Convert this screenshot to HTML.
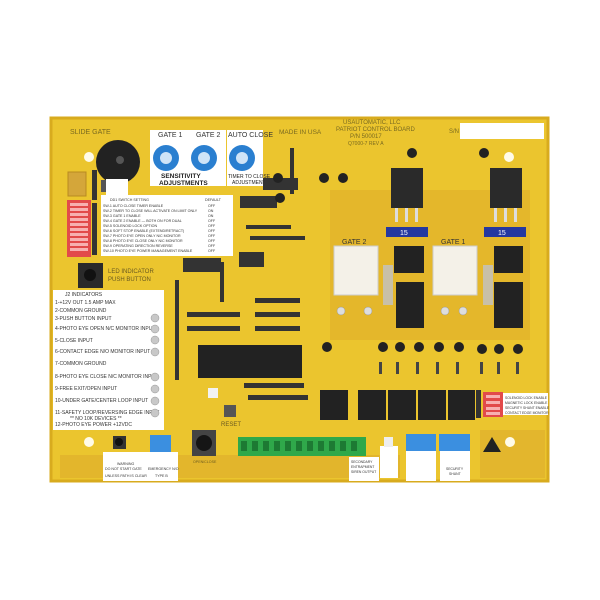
<!DOCTYPE html>
<html><head><style>
html,body{margin:0;padding:0;background:#fff;width:600px;height:600px;overflow:hidden}
svg{display:block}
text{font-family:"Liberation Sans",sans-serif}
</style></head><body>
<svg width="600" height="600" viewBox="0 0 600 600" xmlns="http://www.w3.org/2000/svg">
<rect width="600" height="600" fill="#fff"/>
<rect x="51" y="118" width="497" height="363" fill="#ebc52e"/>
<rect x="51" y="118" width="497" height="363" fill="none" stroke="#d8ab1e" stroke-width="3"/>
<path d="M330 190 L530 190 L530 340 L330 340 Z" fill="#dfae2a" opacity="0.6"/>
<path d="M60 455 L230 455 L230 478 L60 478 Z" fill="#dca82a" opacity="0.5"/>
<path d="M230 455 L400 455 L400 478 L230 478 Z" fill="#d9a52a" opacity="0.5"/>
<path d="M520 430 L545 430 L545 478 L480 478 L480 430Z" fill="#dba82b" opacity="0.5"/>
<circle cx="89" cy="157" r="5" fill="#fffbe8"/>
<circle cx="509" cy="157" r="5" fill="#fffbe8"/>
<circle cx="89" cy="442" r="5" fill="#fffbe8"/>
<circle cx="510" cy="442" r="5" fill="#fffbe8"/>
<text x="70" y="134" font-size="7" fill="#7a6a20">SLIDE GATE</text>
<text x="279" y="134" font-size="6.5" fill="#7a6a20">MADE IN USA</text>
<text x="343" y="124" font-size="6" fill="#7a6a20">USAUTOMATIC, LLC</text>
<text x="336" y="131" font-size="6" fill="#7a6a20">PATRIOT CONTROL BOARD</text>
<text x="350" y="138" font-size="6" fill="#7a6a20">P/N 500017</text>
<text x="348" y="145" font-size="5" fill="#7a6a20">Q7000-7 REV A</text>
<text x="449" y="133" font-size="6" fill="#7a6a20">S/N</text>
<rect x="460" y="123" width="84" height="16" fill="#fff"/>
<circle cx="118" cy="162" r="22" fill="#222"/>
<circle cx="120" cy="160" r="4" fill="#555"/>
<rect x="150" y="130" width="76" height="56" fill="#fff"/>
<rect x="227" y="130" width="36" height="56" fill="#fff"/>
<text x="158" y="137" font-size="7" fill="#333">GATE 1</text>
<text x="196" y="137" font-size="7" fill="#333">GATE 2</text>
<text x="228" y="137" font-size="7" fill="#333">AUTO CLOSE</text>
<circle cx="166" cy="158" r="13" fill="#2a7fd0"/><circle cx="166" cy="158" r="6" fill="#cfe4f7"/>
<circle cx="204" cy="158" r="13" fill="#2a7fd0"/><circle cx="204" cy="158" r="6" fill="#cfe4f7"/>
<circle cx="242" cy="158" r="13" fill="#2a7fd0"/><circle cx="242" cy="158" r="6" fill="#cfe4f7"/>
<text x="161" y="178" font-size="6.5" fill="#222" font-weight="bold">SENSITIVITY</text>
<text x="159" y="185" font-size="6.5" fill="#222" font-weight="bold">ADJUSTMENTS</text>
<text x="228" y="178" font-size="5" fill="#222">TIMER TO CLOSE</text>
<text x="232" y="184" font-size="5" fill="#222">ADJUSTMENT</text>
<rect x="68" y="172" width="18" height="24" fill="#d4a63a" stroke="#b88a20"/>
<rect x="92" y="170" width="5" height="30" fill="#333"/>
<rect x="101" y="180" width="5" height="12" fill="#555"/>
<rect x="106" y="179" width="22" height="17" fill="#fff"/>
<rect x="67" y="200" width="24" height="57" fill="#e24a4a"/>
<g fill="#f7b0b0">
<rect x="70" y="203" width="18" height="3"/><rect x="70" y="208" width="18" height="3"/><rect x="70" y="213" width="18" height="3"/><rect x="70" y="218" width="18" height="3"/><rect x="70" y="223" width="18" height="3"/><rect x="70" y="228" width="18" height="3"/><rect x="70" y="233" width="18" height="3"/><rect x="70" y="238" width="18" height="3"/><rect x="70" y="243" width="18" height="3"/><rect x="70" y="248" width="18" height="3"/></g>
<rect x="92" y="203" width="5" height="52" fill="#333"/>
<rect x="101" y="195" width="132" height="61" fill="#fff"/>
<g font-size="3.6" fill="#333">
<text x="110" y="201">DD1 SWITCH SETTING</text><text x="205" y="201">DEFAULT</text>
<text x="103" y="207">SW-1  AUTO CLOSE TIMER ENABLE</text><text x="208" y="207">OFF</text>
<text x="103" y="212">SW-2  TIMER TO CLOSE WILL ACTIVATE ON LIMIT ONLY</text><text x="208" y="212">ON</text>
<text x="103" y="217">SW-3  GATE 1 ENABLE</text><text x="208" y="217">ON</text>
<text x="103" y="222">SW-4  GATE 2 ENABLE   — BOTH ON FOR DUAL</text><text x="208" y="222">OFF</text>
<text x="103" y="227">SW-5  SOLENOID LOCK OPTION</text><text x="208" y="227">OFF</text>
<text x="103" y="232">SW-6  SOFT STOP ENABLE (EXTEND/RETRACT)</text><text x="208" y="232">OFF</text>
<text x="103" y="237">SW-7  PHOTO EYE OPEN    ONLY N/C MONITOR</text><text x="208" y="237">OFF</text>
<text x="103" y="242">SW-8  PHOTO EYE CLOSE   ONLY N/C MONITOR</text><text x="208" y="242">OFF</text>
<text x="103" y="247">SW-9  OPERATING DIRECTION REVERSE</text><text x="208" y="247">OFF</text>
<text x="103" y="252">SW-10 PHOTO EYE POWER MANAGEMENT ENABLE</text><text x="208" y="252">OFF</text>
</g>
<rect x="78" y="263" width="25" height="25" fill="#2a2a2a"/>
<circle cx="90" cy="275" r="6" fill="#111"/>
<text x="108" y="273" font-size="6" fill="#6a5a20">LED INDICATOR</text>
<text x="108" y="281" font-size="6" fill="#6a5a20">PUSH BUTTON</text>
<rect x="53" y="290" width="111" height="140" fill="#fff"/>
<g font-size="5" fill="#333">
<text x="65" y="296">J2 INDICATORS</text>
<text x="55" y="304">1-+12V OUT 1.5 AMP MAX</text>
<text x="55" y="312">2-COMMON GROUND</text>
<text x="55" y="320">3-PUSH BUTTON INPUT</text>
<text x="55" y="330">4-PHOTO EYE OPEN  N/C MONITOR INPUT</text>
<text x="55" y="342">5-CLOSE INPUT</text>
<text x="55" y="353">6-CONTACT EDGE  N/O MONITOR INPUT</text>
<text x="55" y="365">7-COMMON GROUND</text>
<text x="55" y="378">8-PHOTO EYE CLOSE N/C MONITOR INPUT</text>
<text x="55" y="390">9-FREE EXIT/OPEN INPUT</text>
<text x="55" y="402">10-UNDER GATE/CENTER LOOP INPUT</text>
<text x="55" y="414">11-SAFETY LOOP/REVERSING EDGE INPUT</text>
<text x="70" y="420">** NO 10K DEVICES **</text>
<text x="55" y="426">12-PHOTO EYE POWER +12VDC</text>
</g>
<g fill="#c8c8c8" stroke="#999" stroke-width="0.5">
<circle cx="155" cy="318" r="4"/><circle cx="155" cy="329" r="4"/><circle cx="155" cy="340" r="4"/><circle cx="155" cy="352" r="4"/><circle cx="155" cy="377" r="4"/><circle cx="155" cy="389" r="4"/><circle cx="155" cy="401" r="4"/><circle cx="155" cy="413" r="4"/></g>
<rect x="113" y="436" width="13" height="13" fill="#333"/><circle cx="119" cy="442" r="4" fill="#111"/>
<rect x="150" y="435" width="21" height="17" fill="#3b8fe0"/>
<rect x="103" y="452" width="75" height="29" fill="#fff"/>
<g font-size="3.6" fill="#333"><text x="117" y="465">WARNING</text><text x="105" y="470">DO NOT START GATE</text><text x="105" y="477">UNLESS PATH IS CLEAR</text><text x="148" y="470">EMERGENCY N/O</text><text x="155" y="477">TYPE B</text></g>
<rect x="192" y="430" width="24" height="26" fill="#444"/><circle cx="204" cy="443" r="8" fill="#151515"/>
<text x="193" y="463" font-size="3.6" fill="#6a5a20">OPEN/CLOSE</text>
<rect x="238" y="437" width="128" height="19" fill="#2fa84a"/>
<g fill="#1d7a33"><rect x="241" y="441" width="6" height="10"/><rect x="252" y="441" width="6" height="10"/><rect x="263" y="441" width="6" height="10"/><rect x="274" y="441" width="6" height="10"/><rect x="285" y="441" width="6" height="10"/><rect x="296" y="441" width="6" height="10"/><rect x="307" y="441" width="6" height="10"/><rect x="318" y="441" width="6" height="10"/><rect x="329" y="441" width="6" height="10"/><rect x="340" y="441" width="6" height="10"/><rect x="351" y="441" width="6" height="10"/></g>
<rect x="175" y="280" width="4" height="100" fill="#333"/>
<rect x="187" y="312" width="53" height="5" fill="#333"/>
<rect x="187" y="326" width="53" height="5" fill="#333"/>
<rect x="255" y="298" width="45" height="5" fill="#333"/>
<rect x="255" y="312" width="45" height="5" fill="#333"/>
<rect x="255" y="326" width="45" height="5" fill="#333"/>
<rect x="246" y="225" width="45" height="4" fill="#333"/>
<rect x="250" y="236" width="55" height="4" fill="#333"/>
<rect x="220" y="262" width="4" height="40" fill="#333"/>
<rect x="290" y="148" width="4" height="46" fill="#333"/>
<rect x="198" y="345" width="104" height="33" fill="#222"/>
<rect x="240" y="196" width="37" height="12" fill="#333"/>
<rect x="239" y="252" width="25" height="15" fill="#333"/>
<rect x="183" y="258" width="38" height="14" fill="#333"/>
<rect x="263" y="178" width="35" height="12" fill="#333"/>
<rect x="244" y="383" width="60" height="5" fill="#333"/>
<rect x="248" y="395" width="60" height="5" fill="#333"/>
<rect x="208" y="388" width="10" height="10" fill="#f2f2f2"/>
<rect x="224" y="405" width="12" height="12" fill="#555"/>
<text x="221" y="426" font-size="6" fill="#6a5a20">RESET</text>
<g fill="#222"><circle cx="278" cy="178" r="5"/><circle cx="324" cy="178" r="5"/><circle cx="343" cy="178" r="5"/><circle cx="280" cy="198" r="5"/><circle cx="412" cy="153" r="5"/><circle cx="484" cy="153" r="5"/><circle cx="327" cy="347" r="5"/></g>
<rect x="391" y="168" width="32" height="40" fill="#2a2a2a"/>
<rect x="490" y="168" width="32" height="40" fill="#2a2a2a"/>
<g fill="#ddd"><rect x="395" y="208" width="3" height="14"/><rect x="405" y="208" width="3" height="14"/><rect x="415" y="208" width="3" height="14"/><rect x="494" y="208" width="3" height="14"/><rect x="504" y="208" width="3" height="14"/><rect x="514" y="208" width="3" height="14"/></g>
<rect x="386" y="227" width="42" height="10" fill="#2438a0"/><text x="400" y="235" font-size="7" fill="#fff">15</text>
<rect x="484" y="227" width="42" height="10" fill="#2438a0"/><text x="498" y="235" font-size="7" fill="#fff">15</text>
<text x="342" y="244" font-size="7" fill="#333">GATE 2</text>
<text x="441" y="244" font-size="7" fill="#333">GATE 1</text>
<rect x="334" y="246" width="44" height="49" fill="#f4f1e8" stroke="#ccc"/>
<rect x="433" y="246" width="44" height="49" fill="#f4f1e8" stroke="#ccc"/>
<rect x="383" y="265" width="10" height="40" fill="#c8c0a8"/>
<rect x="483" y="265" width="10" height="40" fill="#c8c0a8"/>
<g fill="#222">
<rect x="394" y="246" width="30" height="27"/><rect x="396" y="282" width="28" height="46"/>
<rect x="494" y="246" width="29" height="27"/><rect x="494" y="282" width="29" height="46"/>
<rect x="320" y="390" width="28" height="30"/><rect x="358" y="390" width="28" height="30"/><rect x="388" y="390" width="28" height="30"/><rect x="418" y="390" width="28" height="30"/><rect x="448" y="390" width="27" height="30"/>
</g>
<g fill="#ddd" stroke="#999" stroke-width="0.5"><circle cx="341" cy="311" r="4"/><circle cx="368" cy="311" r="4"/><circle cx="445" cy="311" r="4"/><circle cx="463" cy="311" r="4"/></g>
<g fill="#222"><circle cx="383" cy="347" r="5"/><circle cx="400" cy="347" r="5"/><circle cx="419" cy="347" r="5"/><circle cx="439" cy="347" r="5"/><circle cx="459" cy="347" r="5"/><circle cx="482" cy="349" r="5"/><circle cx="499" cy="349" r="5"/><circle cx="518" cy="349" r="5"/></g>
<g fill="#444"><rect x="379" y="362" width="3" height="12"/><rect x="396" y="362" width="3" height="12"/><rect x="416" y="362" width="3" height="12"/><rect x="436" y="362" width="3" height="12"/><rect x="456" y="362" width="3" height="12"/><rect x="480" y="362" width="3" height="12"/><rect x="497" y="362" width="3" height="12"/><rect x="516" y="362" width="3" height="12"/></g>
<rect x="476" y="390" width="5" height="28" fill="#333"/>
<rect x="483" y="392" width="20" height="25" fill="#e24a4a"/>
<g fill="#f7b0b0"><rect x="486" y="395" width="14" height="3"/><rect x="486" y="401" width="14" height="3"/><rect x="486" y="407" width="14" height="3"/><rect x="486" y="412" width="14" height="3"/></g>
<rect x="503" y="393" width="45" height="22" fill="#fff"/>
<g font-size="3.4" fill="#333"><text x="505" y="399">SOLENOID LOCK ENABLE</text><text x="505" y="404">MAGNETIC LOCK ENABLE</text><text x="505" y="409">SECURITY SHUNT ENABLE</text><text x="505" y="414">CONTACT EDGE MONITOR</text></g>
<rect x="406" y="434" width="30" height="17" fill="#3b8fe0"/>
<rect x="439" y="434" width="31" height="17" fill="#3b8fe0"/>
<rect x="380" y="446" width="18" height="32" fill="#fff"/>
<rect x="349" y="457" width="30" height="24" fill="#fff"/>
<rect x="406" y="451" width="30" height="30" fill="#fff"/>
<rect x="440" y="451" width="30" height="30" fill="#fff"/>
<g font-size="3.4" fill="#333"><text x="351" y="463">SECONDARY</text><text x="351" y="468">ENTRAPMENT</text><text x="351" y="473">SIREN OUTPUT</text><text x="446" y="470">SECURITY</text><text x="449" y="475">SHUNT</text></g>
<rect x="384" y="437" width="9" height="10" fill="#eee"/>
<path d="M483 452 L492 437 L501 452 Z" fill="#222"/>
</svg>
</body></html>
